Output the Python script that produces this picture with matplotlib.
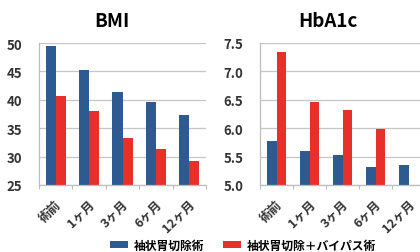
import matplotlib
matplotlib.use("Agg")
import matplotlib.pyplot as plt
import numpy as np

plt.rcParams['font.family'] = ['Noto Sans CJK JP', 'DejaVu Sans']

categories = ["術前", "1ヶ月", "3ヶ月", "6ヶ月", "12ヶ月"]
series_names = ["袖状胃切除術", "袖状胃切除＋バイパス術"]
bmi_sleeve = [49.4, 45.3, 41.4, 39.6, 37.3]
bmi_bypass = [40.7, 38.0, 33.3, 31.3, 29.3]
hba1c_sleeve = [5.77, 5.60, 5.52, 5.31, 5.35]
hba1c_bypass = [7.34, 6.47, 6.32, 5.98, np.nan]
bmi_ticks = [25, 30, 35, 40, 45, 50]
hba1c_ticks = [5.0, 5.5, 6.0, 6.5, 7.0, 7.5]
hba1c_ticklabels = ["5.0", "5.5", "6.0", "6.5", "7.0", "7.5"]

BLUE = "#2d5b91"
RED = "#e8302a"
GRID = "#c9c5c5"

W, H = 420, 253
fig = plt.figure(figsize=(W / 100, H / 100), dpi=100)

def ax_rect(l, r, t, b):
    return [l / W, 1 - b / H, (r - l) / W, (b - t) / H]

ax1 = fig.add_axes(ax_rect(39, 206, 44, 186))
ax2 = fig.add_axes(ax_rect(260, 425, 44, 186))

x = np.arange(len(categories))
bw = 0.3

def style(ax, ticks, ticklabels, ylim):
    ax.set_xlim(-0.5, len(categories) - 0.5)
    ax.set_ylim(*ylim)
    ax.set_yticks(ticks)
    ax.set_yticklabels(ticklabels, fontsize=9.5, fontweight='bold', color='#333333')
    ax.tick_params(axis='y', length=0, pad=12)
    ax.yaxis.grid(True, color=GRID, linewidth=0.9)
    ax.set_axisbelow(True)
    for s in ['top', 'right']:
        ax.spines[s].set_visible(False)
    for s in ['left', 'bottom']:
        ax.spines[s].set_color('#bdbdbd')
        ax.spines[s].set_linewidth(0.9)
    ax.set_xticks(x - 0.02)
    ax.set_xticklabels(categories, rotation=45, ha='right', rotation_mode='anchor',
                       fontsize=9, fontweight='bold', color='#333333')
    ax.tick_params(axis='x', length=0, pad=9)
    ax.set_xticks(np.arange(len(categories) + 1) - 0.5, minor=True)
    ax.tick_params(axis='x', which='minor', length=3, color='#bdbdbd', width=0.8)

b1 = ax1.bar(x - bw / 2, bmi_sleeve, bw, color=BLUE, label=series_names[0])
b2 = ax1.bar(x + bw / 2, bmi_bypass, bw, color=RED, label=series_names[1])
style(ax1, bmi_ticks, [str(t) for t in bmi_ticks], (25, 50))

ax2.bar(x - bw / 2, hba1c_sleeve, bw, color=BLUE)
ax2.bar(x + bw / 2, hba1c_bypass, bw, color=RED)
style(ax2, hba1c_ticks, hba1c_ticklabels, (5.0, 7.5))

fig.text(112 / W, 1 - 22 / H, "BMI", ha='center', va='center', fontsize=13.5, fontweight='bold')
fig.text(328 / W, 1 - 22 / H, "HbA1c", ha='center', va='center', fontsize=13.5, fontweight='bold')

fig.legend(handles=[b1, b2], labels=series_names, loc='center',
           bbox_to_anchor=(243 / W, 1 - 246 / H), ncol=2, frameon=False,
           handlelength=1.5, handleheight=0.5, handletextpad=0.5, columnspacing=1.6,
           prop={'size': 8.5, 'weight': 'bold'})

fig.savefig("out.png", dpi=100)
